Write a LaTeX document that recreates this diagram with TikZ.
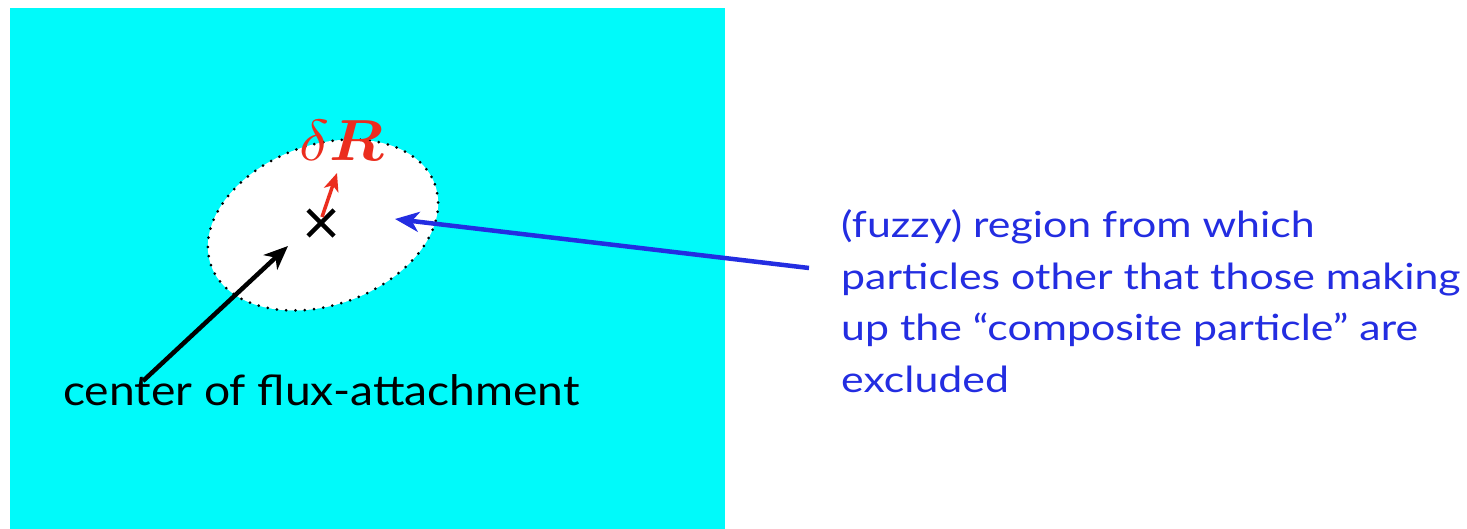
\documentclass[tikz,border=0pt]{standalone}
\usepackage{fontspec}
\usepackage{amsmath}
\usepackage{bm}
\usepackage{graphicx}
\setmainfont{Lato}
\usetikzlibrary{arrows.meta,calc}
\definecolor{bgcyan}{RGB}{0,250,250}
\definecolor{arrred}{RGB}{235,45,30}
\definecolor{txtblue}{RGB}{35,45,225}
\tikzset{
  conn/.style={line width=4.5pt,-{Stealth[length=24pt,width=20pt,inset=7pt]}},
  lbl/.style={inner sep=0pt},
}
\begin{document}
\begin{tikzpicture}[x=1pt,y=-1pt]
\useasboundingbox (0,0) rectangle (1467,529);
\fill[white] (0,0) rectangle (1467,529);
\fill[bgcyan] (10,8) rectangle (725,529);
\path[fill=white] (323,225) ellipse [x radius=119, y radius=80, rotate=20];
\draw[line width=3pt,line cap=round,dash pattern=on 0pt off 9.3pt] (323,225) ellipse [x radius=119, y radius=80, rotate=20];
% cross
\coordinate (xc) at (321,223);
\draw[line width=4.5pt] ($(xc)+(-13,-13)$) -- ($(xc)+(13,13)$);
\draw[line width=4.5pt] ($(xc)+(13,-13)$) -- ($(xc)+(-13,13)$);
% labels
\node[lbl,text=arrred,anchor=base] (dR) at (342,161) {\scalebox{6.2}[5.8]{$\delta\bm{R}$}};
\node[lbl,anchor=base west] (clbl) at (63,405) {\scalebox{1.10}[1]{\fontsize{42}{50}\selectfont center of flux-attachment}};
\node[lbl,text=txtblue,anchor=base west] (blbl) at (841,392) {\scalebox{1.19}[1]{\fontsize{36}{51.5}\selectfont\begin{tabular}[b]{@{}l@{}}(fuzzy) region from which\\particles other that those making\\up the “composite particle” are\\excluded\end{tabular}}};
% arrows
\coordinate (rtail) at (322,217);
\coordinate (rtip) at (337,173);
\draw[conn,arrred,line width=3.5pt,-{Stealth[length=18pt,width=15pt,inset=5pt]}] (rtail) -- (rtip);
\coordinate (btail) at (143,381);
\coordinate (btip) at (288,246);
\draw[conn,black] (btail) -- (btip);
\coordinate (ltail) at (809,268);
\coordinate (ltip) at (395,219);
\draw[conn,txtblue] (ltail) -- (ltip);
\end{tikzpicture}
\end{document}
